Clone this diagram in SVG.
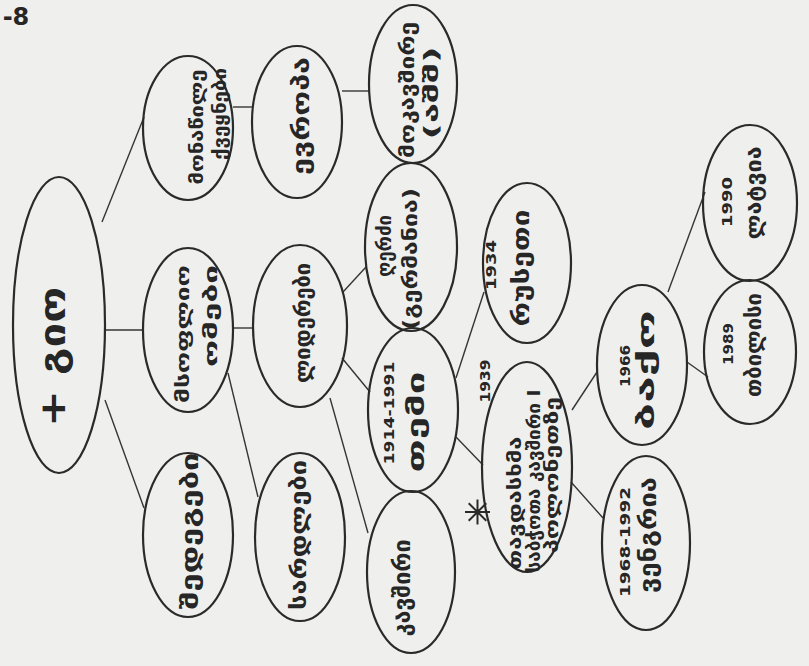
<svg xmlns="http://www.w3.org/2000/svg" width="809" height="666" viewBox="0 0 809 666">
<style>
.bg{fill:#eff0ee}
.n{fill:none;stroke:#2a2a2a;stroke-width:2.2}
.c{stroke:#353535;stroke-width:1.4;fill:none}
.s{stroke:#2a2a2a;stroke-width:2;fill:none}
.t{font-family:"DejaVu Sans","Noto Sans",sans-serif;font-weight:bold;fill:#262626;text-anchor:middle;dominant-baseline:central}
.d{font-family:"DejaVu Sans","Liberation Sans",sans-serif;font-weight:bold;fill:#262626;text-anchor:middle;dominant-baseline:central;font-size:14px}
</style>
<rect class="bg" x="0" y="0" width="809" height="666"/>
<text class="t" font-size="24" x="16" y="17">-8</text>
<g id="connectors">
<line class="c" x1="102" y1="222" x2="144" y2="117"/>
<line class="c" x1="105" y1="330" x2="143" y2="330"/>
<line class="c" x1="105" y1="400" x2="144" y2="508"/>
<line class="c" x1="233" y1="107" x2="253" y2="107"/>
<line class="c" x1="233" y1="328" x2="253" y2="328"/>
<line class="c" x1="228" y1="373" x2="258" y2="497"/>
<line class="c" x1="342" y1="91" x2="370" y2="91"/>
<line class="c" x1="343" y1="292" x2="366" y2="267"/>
<line class="c" x1="342" y1="358" x2="370" y2="392"/>
<line class="c" x1="330" y1="398" x2="368" y2="533"/>
<line class="c" x1="456" y1="378" x2="484" y2="292"/>
<line class="c" x1="456" y1="437" x2="483" y2="465"/>
<line class="c" x1="572" y1="410" x2="597" y2="372"/>
<line class="c" x1="571" y1="482" x2="603" y2="518"/>
<line class="c" x1="668" y1="292" x2="705" y2="192"/>
<line class="c" x1="687" y1="362" x2="708" y2="377"/>
</g>
<g id="n-center"><ellipse class="n" cx="59" cy="325" rx="46" ry="148"/>
<text class="t" font-size="36" transform="translate(52,357) rotate(-90)" textLength="140" lengthAdjust="spacingAndGlyphs">+ გიო</text></g>
<g id="n-a"><ellipse class="n" cx="188" cy="128" rx="45" ry="72"/>
<text class="t" font-size="18" transform="translate(196,127) rotate(-90)" textLength="115" lengthAdjust="spacingAndGlyphs">მონაწილე</text>
<text class="t" font-size="18" transform="translate(219,114) rotate(-90)" textLength="92" lengthAdjust="spacingAndGlyphs">ქვეყნები</text></g>
<g id="n-b"><ellipse class="n" cx="188" cy="330" rx="45" ry="82"/>
<text class="t" font-size="18" transform="translate(182,334) rotate(-90)" textLength="138" lengthAdjust="spacingAndGlyphs">მსოფლიო</text>
<text class="t" font-size="18" transform="translate(210,316) rotate(-90)" textLength="102" lengthAdjust="spacingAndGlyphs">ომები</text></g>
<g id="n-c"><ellipse class="n" cx="188" cy="535" rx="45" ry="82"/>
<text class="t" font-size="24" transform="translate(190,531) rotate(-90)" textLength="157" lengthAdjust="spacingAndGlyphs">შედეგები</text></g>
<g id="n-a2"><ellipse class="n" cx="297" cy="122" rx="45" ry="76"/>
<text class="t" font-size="24" transform="translate(301,116) rotate(-90)" textLength="118" lengthAdjust="spacingAndGlyphs">ევროპა</text></g>
<g id="n-b2"><ellipse class="n" cx="300" cy="326" rx="47" ry="81"/>
<text class="t" font-size="22" transform="translate(302,323) rotate(-90)" textLength="120" lengthAdjust="spacingAndGlyphs">ლიდერები</text></g>
<g id="n-d2"><ellipse class="n" cx="300" cy="537" rx="45" ry="84"/>
<text class="t" font-size="22" transform="translate(298,535) rotate(-90)" textLength="150" lengthAdjust="spacingAndGlyphs">სარდლები</text></g>
<g id="n-a3"><ellipse class="n" cx="413" cy="84" rx="44" ry="79"/>
<text class="t" font-size="19" transform="translate(407,90) rotate(-90)" textLength="136" lengthAdjust="spacingAndGlyphs">მოკავშირე</text>
<text class="t" font-size="19" transform="translate(431,93) rotate(-90)" textLength="93" lengthAdjust="spacingAndGlyphs">(აშშ)</text></g>
<g id="n-c3"><ellipse class="n" cx="411" cy="247" rx="46" ry="84"/>
<text class="t" font-size="19" transform="translate(384,246) rotate(-90)" textLength="62" lengthAdjust="spacingAndGlyphs">ღერძი</text>
<text class="t" font-size="19" transform="translate(410,259) rotate(-90)" textLength="142" lengthAdjust="spacingAndGlyphs">(გერმანია)</text></g>
<g id="n-1914"><ellipse class="n" cx="413" cy="410" rx="45" ry="82"/>
<text class="d" transform="translate(389,413) rotate(-90)" textLength="103" lengthAdjust="spacingAndGlyphs">1914-1991</text>
<text class="t" font-size="24" transform="translate(416,422) rotate(-90)" textLength="101" lengthAdjust="spacingAndGlyphs">თემი</text></g>
<g id="n-q"><ellipse class="n" cx="411" cy="572" rx="44" ry="81"/>
<text class="t" font-size="24" transform="translate(402,588) rotate(-90)" textLength="97" lengthAdjust="spacingAndGlyphs">კავშირი</text></g>
<g id="n-1934"><ellipse class="n" cx="527" cy="263" rx="44" ry="80"/>
<text class="d" transform="translate(491,265) rotate(-90)" textLength="50" lengthAdjust="spacingAndGlyphs">1934</text>
<text class="t" font-size="24" transform="translate(521,268) rotate(-90)" textLength="117" lengthAdjust="spacingAndGlyphs">რუსეთი</text></g>
<g id="n-1939"><ellipse class="n" cx="527" cy="467" rx="45" ry="105"/>
<text class="d" transform="translate(485,381) rotate(-90)" textLength="43" lengthAdjust="spacingAndGlyphs">1939</text>
<text class="t" font-size="17" transform="translate(515,503) rotate(-90)" textLength="133" lengthAdjust="spacingAndGlyphs">თავდასხმა</text>
<text class="t" font-size="17" transform="translate(534,481) rotate(-90)" textLength="183" lengthAdjust="spacingAndGlyphs">საბჭოთა კავშირი I</text>
<text class="t" font-size="17" transform="translate(552,475) rotate(-90)" textLength="156" lengthAdjust="spacingAndGlyphs">პოლონეთზე</text>
<path class="s" d="M465 512H490M477.5 499.5V524.5M468.7 503.2L486.3 520.8M468.7 520.8L486.3 503.2"/></g>
<g id="n-1966"><ellipse class="n" cx="642" cy="365" rx="45" ry="80"/>
<text class="d" transform="translate(625,366) rotate(-90)" textLength="42" lengthAdjust="spacingAndGlyphs">1966</text>
<text class="t" font-size="24" transform="translate(646,370) rotate(-90)" textLength="120" lengthAdjust="spacingAndGlyphs">ბაქო</text></g>
<g id="n-1968"><ellipse class="n" cx="646" cy="543" rx="44" ry="87"/>
<text class="d" transform="translate(625,542) rotate(-90)" textLength="110" lengthAdjust="spacingAndGlyphs">1968-1992</text>
<text class="t" font-size="24" transform="translate(648,535) rotate(-90)" textLength="116" lengthAdjust="spacingAndGlyphs">ვენგრია</text></g>
<g id="n-1990"><ellipse class="n" cx="750" cy="203" rx="47" ry="78"/>
<text class="d" transform="translate(727,202) rotate(-90)" textLength="50" lengthAdjust="spacingAndGlyphs">1990</text>
<text class="t" font-size="22" transform="translate(753,193) rotate(-90)" textLength="93" lengthAdjust="spacingAndGlyphs">ლატვია</text></g>
<g id="n-1989"><ellipse class="n" cx="750" cy="352" rx="46" ry="72"/>
<text class="d" transform="translate(728,344) rotate(-90)" textLength="42" lengthAdjust="spacingAndGlyphs">1989</text>
<text class="t" font-size="22" transform="translate(753,345) rotate(-90)" textLength="104" lengthAdjust="spacingAndGlyphs">თბილისი</text></g>
</svg>
